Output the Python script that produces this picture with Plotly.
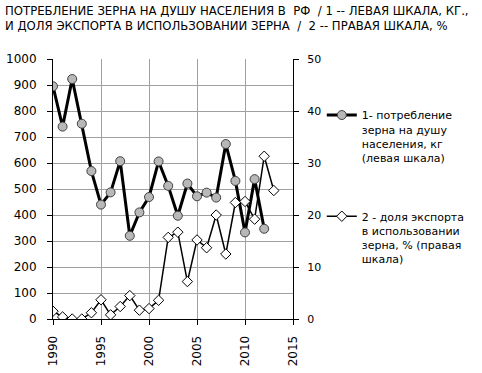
import plotly.graph_objects as go

years1 = list(range(1990, 2013))
consumption = [895, 740, 923, 751, 569, 440, 487, 607, 320, 410, 469, 606, 512,
               397, 521, 472, 486, 467, 673, 531, 333, 538, 347]

years2 = list(range(1990, 2014))
export_share = [1.5, 0.4, 0.0, 0.0, 1.2, 3.7, 0.8, 2.4, 4.5, 1.7, 2.0, 3.6, 15.7,
                16.7, 7.2, 15.2, 13.7, 20.0, 12.5, 22.4, 22.6, 19.2, 31.3, 24.7]

name1 = "1- потребление<br>зерна на душу<br>населения, кг<br>(левая шкала)"
name2 = "2 - доля экспорта<br>в использовании<br>зерна, % (правая<br>шкала)"
title_text = ("ПОТРЕБЛЕНИЕ ЗЕРНА НА ДУШУ НАСЕЛЕНИЯ В  РФ  / 1 -- ЛЕВАЯ ШКАЛА, КГ.,<br>"
              "И ДОЛЯ ЭКСПОРТА В ИСПОЛЬЗОВАНИИ ЗЕРНА  /  2 -- ПРАВАЯ ШКАЛА, %")

FONT = "DejaVu Sans"

fig = go.Figure()
fig.add_trace(go.Scatter(
    x=years1, y=consumption, name=name1, mode="lines+markers",
    line=dict(color="black", width=3),
    marker=dict(symbol="circle", size=9, color="#b8b8b8",
                line=dict(color="#404040", width=1)),
    legendgroup="g1", yaxis="y"))
fig.add_trace(go.Scatter(
    x=years2, y=export_share, name=name2, mode="lines+markers",
    line=dict(color="black", width=1.5),
    marker=dict(symbol="diamond", size=8, color="white",
                line=dict(color="black", width=1)),
    legendgroup="g2", yaxis="y2"))

fig.add_annotation(
    text=title_text, xref="paper", yref="paper",
    x=-50/240, xanchor="left", y=1 + 57/260, yanchor="top",
    showarrow=False, align="left",
    font=dict(family=FONT, size=11.7, color="black"))

fig.update_layout(
    width=482, height=373,
    margin=dict(l=53, r=189, t=59, b=54, autoexpand=False),
    paper_bgcolor="white", plot_bgcolor="white",
    font=dict(family=FONT, size=12, color="black"),
    xaxis=dict(range=[1990, 2015], tickmode="linear", tick0=1990, dtick=5,
               tickangle=-90, showgrid=True, gridcolor="#a0a0a0", gridwidth=1,
               showline=True, linecolor="black", linewidth=1,
               ticks="outside", ticklen=5, tickcolor="black", automargin=False,
               zeroline=False, tickfont=dict(size=12), ticklabelstandoff=6),
    yaxis=dict(range=[0, 1000], tickmode="linear", tick0=0, dtick=100,
               showgrid=True, gridcolor="#a0a0a0", gridwidth=1,
               showline=True, linecolor="black", linewidth=1,
               ticks="outside", ticklen=5, tickcolor="black", automargin=False,
               zeroline=False, tickfont=dict(size=12), ticklabelstandoff=8),
    yaxis2=dict(range=[0, 50], tickmode="linear", tick0=0, dtick=10,
                overlaying="y", side="right", showgrid=False,
                showline=True, linecolor="black", linewidth=1,
                ticks="outside", ticklen=5, tickcolor="black", automargin=False,
                zeroline=False, tickfont=dict(size=11), ticklabelstandoff=6),
    legend=dict(x=1.12, xanchor="left", y=0.837, yanchor="top",
                bgcolor="rgba(0,0,0,0)", borderwidth=0,
                font=dict(family=FONT, size=11, color="black"),
                traceorder="grouped", tracegroupgap=41, itemwidth=30,
                valign="top"),
    showlegend=True,
)

fig.write_html("out.html", config={"displayModeBar": False},
               post_script="document.body.style.margin='0px';")
